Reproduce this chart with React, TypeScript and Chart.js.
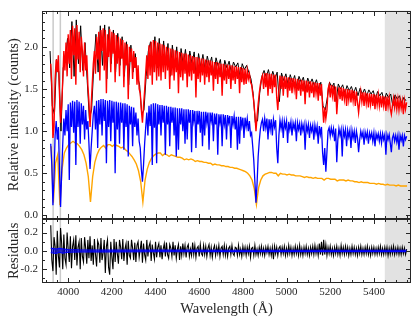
import React, { useEffect, useRef } from 'react';
import { Chart, registerables } from 'chart.js';

Chart.register(...registerables);

// ---- axis ranges / ticks ----
const X_MIN = 3880;
const X_MAX = 5570;
const TOP_MIN = -0.04;
const TOP_MAX = 2.43;
const RES_MIN = -0.35;
const RES_MAX = 0.35;
const X_TICK_STEP = 200;
const X_MINOR_STEP = 50;
const TOP_TICK_STEP = 0.5;
const TOP_MINOR_STEP = 0.1;
const RES_TICK_STEP = 0.2;
const RES_MINOR_STEP = 0.1;

// masked region and marked lines (Å)
const MASK_START = 5450;
const LINE_MARKS = [3931, 3964];

// ---- spectra (regular wavelength grids) ----
const FINE_START = 3920; // model, blue, residuals (5 Å)
const FINE_STEP = 5;
const COARSE_START = 3922; // orange (10 Å)
const OBS_START = 3917; // observed black (10 Å)
const COARSE_STEP = 10;

const observed = [
  1.95, 1.30, 1.20, 1.85, 1.70, 1.00, 1.75, 1.85, 2.10, 1.75,
  2.30, 1.65, 2.32, 1.80, 2.25, 1.72, 2.05, 1.60, 1.15, 1.25,
  1.75, 2.15, 1.70, 2.25, 1.78, 2.26, 1.62, 2.24, 1.80, 2.20,
  1.70, 2.16, 1.78, 2.12, 1.65, 2.06, 1.55, 2.02, 1.70, 1.92,
  1.65, 1.55, 1.20, 1.25, 1.65, 1.95, 2.06, 1.70, 2.12, 1.75,
  2.10, 1.72, 2.07, 1.78, 2.04, 1.65, 2.02, 1.76, 2.00, 1.68,
  1.98, 1.78, 1.97, 1.70, 1.95, 1.80, 1.94, 1.60, 1.92, 1.76,
  1.91, 1.72, 1.89, 1.78, 1.88, 1.66, 1.87, 1.77, 1.85, 1.62,
  1.84, 1.75, 1.83, 1.70, 1.82, 1.76, 1.81, 1.64, 1.80, 1.73,
  1.78, 1.70, 1.62, 1.45, 1.10, 1.12, 1.45, 1.65, 1.72, 1.64,
  1.73, 1.60, 1.71, 1.62, 1.70, 1.35, 1.69, 1.60, 1.68, 1.55,
  1.67, 1.58, 1.66, 1.52, 1.65, 1.58, 1.64, 1.50, 1.63, 1.56,
  1.62, 1.54, 1.61, 1.50, 1.58, 1.30, 1.25, 1.40, 1.58, 1.52,
  1.57, 1.35, 1.56, 1.50, 1.55, 1.45, 1.54, 1.48, 1.53, 1.45,
  1.52, 1.42, 1.51, 1.44, 1.50, 1.42, 1.49, 1.44, 1.48, 1.38,
  1.47, 1.42, 1.46, 1.35, 1.45, 1.40, 1.44, 1.30, 1.43, 1.38,
  1.42, 1.33, 1.40, 1.36,
];

const model = [
  1.80, 1.55, 0.92, 1.05, 1.62, 1.85, 1.70, 1.90, 1.45, 1.10, 1.30, 1.60, 1.95, 1.72, 2.05, 1.65, 2.15, 1.80, 2.20, 1.62,
  2.25, 1.90, 2.22, 1.55, 2.26, 1.85, 2.18, 1.70, 2.12, 1.95, 1.65, 2.05, 1.72, 1.90, 1.55, 1.35, 1.05, 1.30, 1.55, 1.80,
  1.95, 1.68, 2.12, 1.85, 2.18, 1.60, 2.20, 1.95, 2.22, 1.72, 2.20, 1.45, 2.15, 1.88, 2.21, 1.70, 2.18, 1.92, 2.16, 1.58,
  2.14, 1.80, 2.12, 1.65, 2.10, 1.86, 2.08, 1.52, 2.05, 1.78, 2.03, 1.38, 2.00, 1.82, 1.98, 1.62, 1.95, 1.75, 1.88, 1.55,
  1.78, 1.50, 1.45, 1.25, 1.10, 1.30, 1.48, 1.70, 1.90, 1.62, 2.02, 1.66, 2.06, 1.55, 2.08, 1.70, 2.07, 1.60, 2.05, 1.65,
  2.04, 1.60, 2.03, 1.70, 2.02, 1.62, 2.00, 1.72, 1.99, 1.50, 1.98, 1.66, 1.97, 1.60, 1.96, 1.70, 1.95, 1.45, 1.94, 1.64,
  1.93, 1.60, 1.92, 1.68, 1.92, 1.52, 1.91, 1.65, 1.90, 1.60, 1.89, 1.68, 1.88, 1.40, 1.88, 1.62, 1.87, 1.58, 1.86, 1.66,
  1.86, 1.55, 1.85, 1.64, 1.84, 1.58, 1.84, 1.66, 1.83, 1.48, 1.82, 1.62, 1.82, 1.56, 1.81, 1.64, 1.80, 1.42, 1.80, 1.60,
  1.79, 1.56, 1.79, 1.62, 1.78, 1.50, 1.78, 1.60, 1.77, 1.56, 1.77, 1.62, 1.76, 1.45, 1.76, 1.58, 1.75, 1.55, 1.74, 1.56,
  1.72, 1.62, 1.68, 1.58, 1.55, 1.45, 1.35, 1.20, 1.00, 1.18, 1.32, 1.45, 1.55, 1.62, 1.66, 1.50, 1.69, 1.52, 1.69, 1.42,
  1.68, 1.50, 1.68, 1.45, 1.67, 1.52, 1.67, 1.40, 1.25, 1.48, 1.66, 1.50, 1.65, 1.42, 1.65, 1.50, 1.64, 1.40, 1.64, 1.48,
  1.63, 1.45, 1.63, 1.50, 1.62, 1.38, 1.62, 1.48, 1.61, 1.42, 1.61, 1.47, 1.60, 1.32, 1.60, 1.46, 1.59, 1.40, 1.59, 1.45,
  1.58, 1.40, 1.58, 1.45, 1.57, 1.36, 1.57, 1.42, 1.56, 1.30, 1.10, 1.28, 1.15, 1.25, 1.50, 1.55, 1.40, 1.55, 1.42, 1.54,
  1.35, 1.53, 1.20, 1.40, 1.52, 1.38, 1.52, 1.36, 1.51, 1.38, 1.50, 1.30, 1.50, 1.37, 1.49, 1.34, 1.49, 1.36, 1.48, 1.30,
  1.47, 1.34, 1.22, 1.35, 1.47, 1.35, 1.46, 1.30, 1.46, 1.33, 1.45, 1.28, 1.45, 1.32, 1.44, 1.30, 1.44, 1.26, 1.43, 1.31,
  1.43, 1.30, 1.42, 1.28, 1.42, 1.30, 1.41, 1.24, 1.41, 1.29, 1.40, 1.27, 1.20, 1.30, 1.39, 1.28, 1.38, 1.26, 1.38, 1.25,
  1.37, 1.27, 1.36, 1.20, 1.36, 1.26, 1.34,
];

const blueSpectrum = [
  0.85, 0.60, 0.12, 0.45, 0.95, 1.12, 0.90, 1.05, 0.55, 0.10, 0.50, 0.85, 1.15, 0.95, 1.25, 1.00, 1.32, 0.42, 1.34, 1.05,
  1.36, 0.98, 1.35, 0.60, 1.37, 1.05, 1.35, 0.85, 1.33, 1.08, 1.30, 0.90, 1.25, 1.02, 1.12, 0.85, 0.55, 0.80, 1.00, 1.20,
  1.30, 1.02, 1.36, 0.80, 1.37, 1.08, 1.38, 0.95, 1.38, 1.12, 1.37, 0.62, 1.36, 1.05, 1.37, 0.88, 1.36, 1.10, 1.35, 0.50,
  1.35, 1.02, 1.34, 0.85, 1.34, 1.10, 1.33, 0.78, 1.33, 1.05, 1.32, 0.70, 1.30, 1.08, 1.29, 0.82, 1.28, 1.05, 1.22, 0.95,
  1.15, 0.88, 0.80, 0.55, 0.40, 0.60, 0.85, 1.05, 1.22, 0.95, 1.30, 1.06, 1.32, 0.60, 1.33, 1.04, 1.33, 0.62, 1.32, 1.08,
  1.31, 0.95, 1.31, 1.10, 1.30, 0.72, 1.30, 1.08, 1.29, 0.82, 1.29, 1.10, 1.28, 0.95, 1.28, 0.70, 1.27, 0.78, 1.27, 1.08,
  1.27, 1.00, 1.26, 0.85, 1.26, 0.90, 1.26, 1.10, 1.25, 0.75, 1.25, 1.12, 1.24, 0.80, 1.24, 1.08, 1.24, 0.98, 1.23, 0.82,
  1.23, 0.95, 1.23, 1.10, 1.22, 0.78, 1.22, 1.12, 1.22, 0.88, 1.21, 1.08, 1.21, 0.72, 1.20, 1.10, 1.20, 0.82, 1.20, 1.08,
  1.19, 0.90, 1.19, 1.10, 1.18, 0.80, 1.18, 1.08, 1.18, 1.02, 1.17, 0.78, 1.17, 0.85, 1.17, 1.06, 1.16, 0.92, 1.16, 1.05,
  1.15, 1.00, 1.12, 0.95, 0.98, 0.82, 0.65, 0.40, 0.15, 0.38, 0.70, 0.88, 1.02, 1.10, 1.14, 1.00, 1.15, 1.04, 1.15, 0.90,
  1.14, 1.02, 1.14, 0.95, 1.14, 1.05, 1.13, 0.80, 0.62, 0.95, 1.13, 1.03, 1.12, 0.92, 1.12, 1.04, 1.12, 0.86, 1.11, 1.02,
  1.11, 0.95, 1.10, 1.03, 1.10, 0.88, 1.10, 1.02, 1.09, 0.95, 1.09, 1.01, 1.08, 0.78, 1.08, 1.00, 1.08, 0.92, 1.07, 1.00,
  1.07, 0.90, 1.07, 0.98, 1.06, 0.85, 1.06, 0.96, 1.05, 0.75, 0.60, 0.80, 0.52, 0.75, 1.00, 1.04, 0.94, 1.04, 0.96, 1.03,
  0.88, 1.03, 0.63, 0.90, 1.03, 0.95, 1.02, 0.70, 1.02, 0.94, 1.02, 0.82, 1.01, 0.93, 1.01, 0.80, 1.01, 0.92, 1.00, 0.86,
  1.00, 0.92, 0.75, 0.90, 1.00, 0.93, 0.99, 0.84, 0.99, 0.92, 0.99, 0.85, 0.98, 0.92, 0.98, 0.88, 0.98, 0.82, 0.97, 0.91,
  0.97, 0.88, 0.97, 0.86, 0.97, 0.90, 0.96, 0.72, 0.96, 0.90, 0.96, 0.86, 0.75, 0.92, 0.96, 0.88, 0.95, 0.87, 0.95, 0.78,
  0.95, 0.89, 0.95, 0.82, 0.95, 0.90, 0.94,
];

const orangeSpectrum = [
  0.82, 0.15, 0.62, 0.72, 0.12, 0.55, 0.74, 0.80, 0.84, 0.86,
  0.88, 0.86, 0.85, 0.82, 0.78, 0.72, 0.62, 0.46, 0.16, 0.46,
  0.63, 0.72, 0.78, 0.81, 0.83, 0.80, 0.84, 0.84, 0.82, 0.84,
  0.83, 0.82, 0.80, 0.81, 0.78, 0.76, 0.73, 0.70, 0.66, 0.61,
  0.53, 0.40, 0.16, 0.42, 0.55, 0.63, 0.68, 0.71, 0.73, 0.74,
  0.74, 0.71, 0.73, 0.72, 0.70, 0.72, 0.71, 0.70, 0.69, 0.69,
  0.68, 0.66, 0.67, 0.66, 0.67, 0.66, 0.64, 0.65, 0.64, 0.64,
  0.63, 0.63, 0.62, 0.62, 0.60, 0.61, 0.60, 0.60, 0.59, 0.59,
  0.58, 0.58, 0.57, 0.57, 0.56, 0.56, 0.55, 0.54, 0.53, 0.52,
  0.50, 0.47, 0.42, 0.32, 0.13, 0.33, 0.42, 0.47, 0.49, 0.50,
  0.51, 0.51, 0.50, 0.50, 0.47, 0.50, 0.49, 0.49, 0.48, 0.49,
  0.48, 0.48, 0.47, 0.47, 0.47, 0.46, 0.45, 0.46, 0.45, 0.45,
  0.44, 0.45, 0.44, 0.44, 0.44, 0.42, 0.44, 0.44, 0.43, 0.43,
  0.43, 0.41, 0.42, 0.42, 0.42, 0.41, 0.42, 0.41, 0.41, 0.40,
  0.40, 0.39, 0.40, 0.39, 0.39, 0.39, 0.38, 0.38, 0.38, 0.37,
  0.38, 0.37, 0.37, 0.36, 0.37, 0.36, 0.36, 0.36, 0.35, 0.36,
  0.35, 0.35, 0.35, 0.35,
];

const residuals = [
  0.28, -0.10, -0.22, 0.15, 0.05, -0.26, 0.22, -0.05, -0.18, 0.25, 0.08, -0.20, 0.18, -0.08, -0.15, 0.20, 0.02, -0.12, 0.16, -0.19,
  0.05, 0.12, -0.10, 0.17, -0.16, 0.04, 0.10, -0.20, 0.14, -0.06, -0.12, 0.15, 0.03, -0.14, 0.12, -0.08, 0.16, -0.11, 0.06, -0.15,
  0.13, -0.04, -0.17, 0.11, 0.07, -0.13, 0.14, -0.10, -0.02, 0.12, -0.24, 0.05, 0.12, -0.18, -0.26, 0.10, -0.06, -0.20, 0.13, -0.12,
  0.10, -0.03, -0.14, 0.12, 0.04, -0.09, 0.13, -0.11, 0.02, 0.08, -0.15, 0.11, -0.05, -0.08, 0.12, 0.03, -0.10, 0.09, -0.12, 0.06,
  0.10, -0.07, 0.02, 0.11, -0.13, 0.08, -0.04, -0.10, 0.12, -0.06, 0.05, 0.09, -0.11, 0.07, -0.02, -0.09, 0.10, -0.07, 0.04, 0.08,
  -0.07, 0.06, -0.09, 0.02, 0.08, -0.06, 0.09, -0.04, -0.08, 0.07, 0.03, -0.06, 0.10, -0.05, 0.06, -0.08, 0.02, 0.07, -0.10, 0.05,
  -0.05, 0.08, -0.03, 0.06, -0.07, 0.04, 0.07, -0.06, 0.02, -0.05, 0.09, -0.04, 0.06, -0.07, 0.03, 0.05, -0.06, 0.07, -0.03, -0.05,
  0.06, -0.04, 0.05, -0.06, 0.03, 0.07, -0.05, 0.04, -0.07, 0.02, 0.06, -0.05, 0.04, -0.03, 0.06, -0.06, 0.03, 0.05, -0.04, 0.06,
  -0.05, 0.04, -0.06, 0.03, 0.05, -0.04, 0.06, -0.03, -0.05, 0.04, 0.03, -0.05, 0.06, -0.04, 0.02, -0.06, 0.05, -0.03, 0.04, -0.05,
  0.04, -0.03, 0.05, -0.07, 0.03, 0.04, -0.05, 0.06, -0.04, 0.02, -0.05, 0.04, -0.03, 0.05, -0.04, 0.03, -0.05, 0.04, -0.02, 0.05,
  -0.04, 0.03, -0.05, 0.04, -0.09, 0.05, -0.03, 0.04, -0.05, 0.03, 0.05, -0.04, 0.04, -0.03, 0.05, -0.05, 0.03, -0.04, 0.06, -0.03,
  0.04, -0.05, 0.03, -0.04, 0.05, -0.03, 0.04, -0.05, 0.06, -0.04, 0.03, -0.05, 0.04, -0.03, 0.05, -0.04, 0.03, -0.05, 0.04, -0.03,
  0.05, -0.04, 0.06, -0.03, 0.04, -0.05, 0.08, -0.04, 0.10, -0.05, 0.12, -0.04, 0.07, -0.05, 0.04, -0.03, 0.05, -0.04, 0.03, -0.05,
  0.04, -0.03, 0.05, -0.04, 0.03, -0.05, 0.06, -0.03, 0.04, -0.04, 0.05, -0.03, 0.04, -0.05, 0.03, -0.04, 0.05, -0.03, 0.04, -0.04,
  0.03, -0.05, 0.04, -0.03, 0.05, -0.04, 0.03, -0.04, 0.04, -0.03, 0.05, -0.04, 0.03, -0.05, 0.04, -0.03, 0.04, -0.04, 0.03, -0.04,
  0.04, -0.03, 0.05, -0.04, 0.03, -0.04, 0.04, -0.03, 0.04, -0.05, 0.03, -0.04, 0.04, -0.03, 0.05, -0.04, 0.03, -0.03, 0.04, -0.04,
  0.03, -0.04, 0.04, -0.03, 0.03, -0.04, 0.02,
];

const RES_BAND_WL = [3920, 3945, 3960, 3975, 4000, 4050, 4150, 4400, 4800, 5200, 5550];
const RES_BAND_UP = [0.03, 0.02, 0.028, 0.022, 0.016, 0.012, 0.01, 0.009, 0.008, 0.008, 0.008];
const RES_BAND_LO = [-0.02, -0.028, -0.015, -0.025, -0.014, -0.012, -0.01, -0.009, -0.008, -0.008, -0.008];

const toPoints = (start: number, step: number, ys: number[]) =>
  ys.map((y, i) => ({ x: start + i * step, y }));
const pairPoints = (xs: number[], ys: number[]) => xs.map((x, i) => ({ x, y: ys[i] }));

const INK = '#262626';

const isMajor = (v: number, step: number) => {
  const r = v / step;
  return Math.abs(r - Math.round(r)) < 1e-6;
};

const panelPlugin = {
  id: 'panels',
  beforeDatasetsDraw(chart: any) {
    const { ctx } = chart;
    const xs = chart.scales.x;
    const top = Math.min(chart.scales.y.top, chart.scales.yr.top);
    const bottom = Math.max(chart.scales.y.bottom, chart.scales.yr.bottom);
    ctx.save();
    const bx0 = xs.getPixelForValue(MASK_START);
    ctx.fillStyle = '#e2e2e2';
    ctx.fillRect(bx0, top, xs.right - bx0, bottom - top);
    ctx.strokeStyle = '#cacaca';
    ctx.lineWidth = 1.5;
    for (const w of LINE_MARKS) {
      const px = xs.getPixelForValue(w);
      ctx.beginPath();
      ctx.moveTo(px, top);
      ctx.lineTo(px, bottom);
      ctx.stroke();
    }
    ctx.restore();
  },
  afterDatasetsDraw(chart: any) {
    const { ctx } = chart;
    const xs = chart.scales.x;
    const panels = [
      { s: chart.scales.y, step: TOP_TICK_STEP, minor: TOP_MINOR_STEP },
      { s: chart.scales.yr, step: RES_TICK_STEP, minor: RES_MINOR_STEP },
    ];
    const L = Math.round(xs.left) + 0.5;
    const R = Math.round(xs.right) - 0.5;
    ctx.save();
    ctx.strokeStyle = INK;
    ctx.lineWidth = 1;
    for (const p of panels) {
      const T = Math.round(p.s.top) + 0.5;
      const B = Math.round(p.s.bottom) - 0.5;
      ctx.strokeRect(L, T, R - L, B - T);
      ctx.beginPath();
      for (let v = Math.ceil(xs.min / X_MINOR_STEP) * X_MINOR_STEP; v <= xs.max; v += X_MINOR_STEP) {
        const px = Math.round(xs.getPixelForValue(v)) + 0.5;
        const len = isMajor(v, X_TICK_STEP) ? 4.5 : 2.5;
        ctx.moveTo(px, T);
        ctx.lineTo(px, T + len);
        ctx.moveTo(px, B);
        ctx.lineTo(px, B - len);
      }
      const n0 = Math.ceil(p.s.min / p.minor - 1e-6);
      const n1 = Math.floor(p.s.max / p.minor + 1e-6);
      for (let k = n0; k <= n1; k++) {
        const v = k * p.minor;
        const py = Math.round(p.s.getPixelForValue(v)) + 0.5;
        const len = isMajor(v, p.step) ? 4.5 : 2.5;
        ctx.moveTo(L, py);
        ctx.lineTo(L + len, py);
        ctx.moveTo(R, py);
        ctx.lineTo(R - len, py);
      }
      ctx.stroke();
    }
    ctx.restore();
  },
};

export default function App() {
  const canvasRef = useRef<HTMLCanvasElement | null>(null);

  useEffect(() => {
    if (!canvasRef.current) return;
    Chart.defaults.font.family = '"Liberation Serif", "DejaVu Serif", serif';

    const line = (label: string, data: any[], color: string, width: number, yAxisID: string, order: number, extra: any = {}) => ({
      label,
      data,
      borderColor: color,
      backgroundColor: color,
      borderWidth: width,
      pointRadius: 0,
      tension: 0,
      fill: false,
      yAxisID,
      xAxisID: 'x',
      order,
      ...extra,
    });

    const yTick = (v: any) => Number(v).toFixed(1);

    const chart = new Chart(canvasRef.current, {
      type: 'line',
      data: {
        datasets: [
          line('Model', toPoints(FINE_START, FINE_STEP, model), '#ff0000', 1.4, 'y', 1),
          line('Observed', toPoints(OBS_START, COARSE_STEP, observed), '#000000', 1.0, 'y', 2),
          line('Blue', toPoints(FINE_START, FINE_STEP, blueSpectrum), '#0000ff', 1.3, 'y', 3),
          line('Orange', toPoints(COARSE_START, COARSE_STEP, orangeSpectrum), '#ffa500', 1.4, 'y', 4),
          line('Band upper', pairPoints(RES_BAND_WL, RES_BAND_UP), '#0000ff', 1.1, 'yr', 5, {
            fill: '+1',
            backgroundColor: 'rgba(0,0,255,0.6)',
          }),
          line('Band lower', pairPoints(RES_BAND_WL, RES_BAND_LO), '#0000ff', 1.1, 'yr', 6),
          line('Residuals', toPoints(FINE_START, FINE_STEP, residuals), '#000000', 1.1, 'yr', 7),
        ],
      },
      options: {
        animation: false,
        responsive: false,
        parsing: false,
        layout: { padding: { top: 5, right: 8, left: 0, bottom: 0 } },
        plugins: {
          legend: { display: false },
          tooltip: { enabled: false },
        },
        scales: {
          x: {
            type: 'linear',
            position: 'bottom',
            min: X_MIN,
            max: X_MAX,
            grid: { display: false, drawTicks: false },
            border: { display: false },
            ticks: {
              stepSize: X_TICK_STEP,
              includeBounds: false,
              padding: 3,
              color: INK,
              font: { size: 11 },
              maxRotation: 0,
              autoSkip: false,
              callback: (v: any) => String(v),
            },
            title: {
              display: true,
              text: 'Wavelength (Å)',
              color: INK,
              font: { size: 14.5 },
              padding: { top: 0, bottom: 4.3 },
            },
            afterFit: (s: any) => {
              s.height = 39;
            },
          },
          yr: {
            type: 'linear',
            position: 'left',
            stack: 'panels',
            stackWeight: 65.5,
            min: RES_MIN,
            max: RES_MAX,
            grid: { display: false, drawTicks: false },
            border: { display: false },
            ticks: {
              stepSize: RES_TICK_STEP,
              includeBounds: false,
              padding: 4,
              color: INK,
              font: { size: 11 },
              callback: yTick,
            },
            title: {
              display: true,
              text: 'Residuals',
              color: INK,
              font: { size: 14.5 },
              padding: { top: 5.3, bottom: 0 },
            },
            afterFit: (s: any) => {
              s.width = 42;
            },
          },
          y: {
            type: 'linear',
            position: 'left',
            stack: 'panels',
            stackWeight: 212.5,
            min: TOP_MIN,
            max: TOP_MAX,
            grid: { display: false, drawTicks: false },
            border: { display: false },
            ticks: {
              stepSize: TOP_TICK_STEP,
              includeBounds: false,
              padding: 4,
              color: INK,
              font: { size: 11 },
              callback: yTick,
            },
            title: {
              display: true,
              text: 'Relative intensity (counts)',
              color: INK,
              font: { size: 14.5 },
              padding: { top: 5.3, bottom: 0 },
            },
            afterFit: (s: any) => {
              s.width = 42;
            },
          },
        },
      } as any,
      plugins: [panelPlugin],
    });

    return () => chart.destroy();
  }, []);

  return (
    <div style={{ position: 'absolute', left: 0, top: 0, width: 419, height: 322, background: '#ffffff' }}>
      <canvas ref={canvasRef} width={419} height={322} style={{ display: 'block' }} />
    </div>
  );
}
